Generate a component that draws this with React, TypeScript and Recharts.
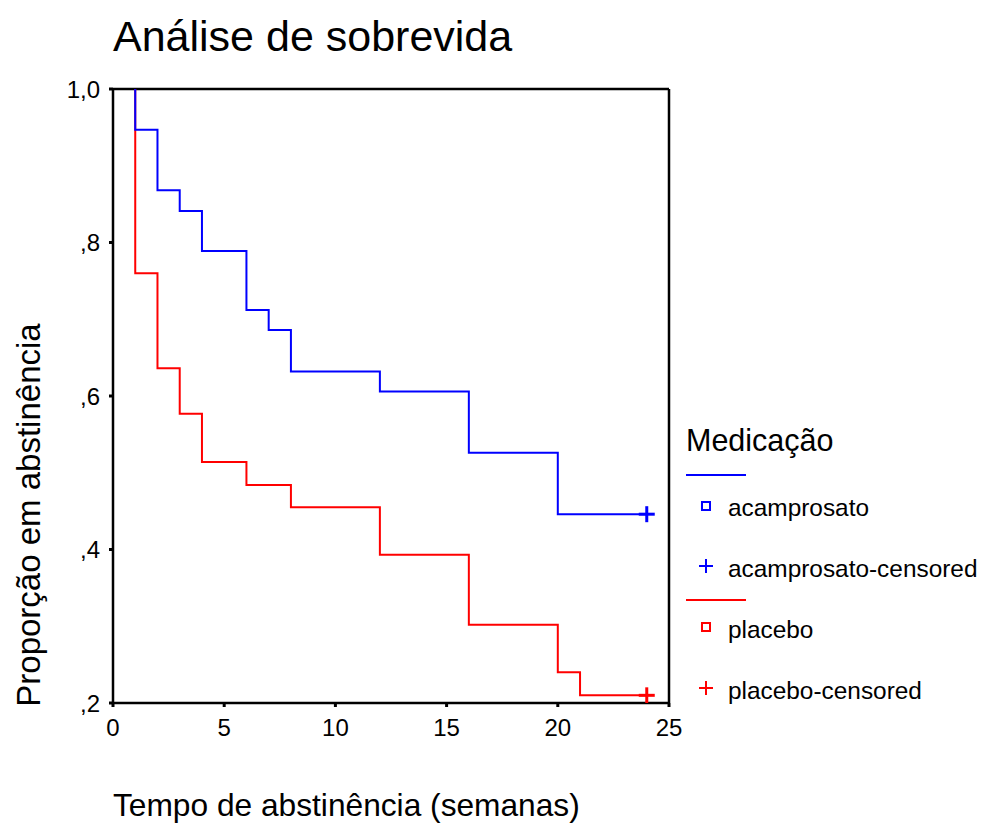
import React from "react";
import { ComposedChart, Line, Scatter, XAxis, YAxis, ReferenceLine } from "recharts";

const acamprosatoTimes = [1, 1, 2, 3, 4, 6, 7, 8, 12, 16, 20, 24];
const acamprosatoValues = [1.0, 0.947, 0.868, 0.841, 0.789, 0.712, 0.686, 0.632, 0.606, 0.526, 0.446, 0.446];
const placeboTimes = [1, 1, 2, 3, 4, 6, 8, 12, 16, 20, 21, 24];
const placeboValues = [1.0, 0.76, 0.636, 0.577, 0.514, 0.484, 0.455, 0.393, 0.302, 0.24, 0.21, 0.21];
const acamprosatoCensored = [{ x: 24, y: 0.446 }];
const placeboCensored = [{ x: 24, y: 0.21 }];
const xTicks = [0, 5, 10, 15, 20, 25];
const yTicks = [0.2, 0.4, 0.6, 0.8, 1.0];
const yTickLabels = [",2", ",4", ",6", ",8", "1,0"];
const legendLabels = ["acamprosato", "acamprosato-censored", "placebo", "placebo-censored"];

const BLUE = "#0000ff";
const RED = "#ff0000";
const FONT = "'Liberation Sans', Arial, sans-serif";

const blueData = acamprosatoTimes.map((t, i) => ({ x: t, y: acamprosatoValues[i] }));
const redData = placeboTimes.map((t, i) => ({ x: t, y: placeboValues[i] }));

const PlusShape = (color: string) => (props: any) => {
  const { cx, cy } = props;
  return (
    <g>
      <line x1={cx - 8} y1={cy} x2={cx + 8} y2={cy} stroke={color} strokeWidth={3} />
      <line x1={cx} y1={cy - 8} x2={cx} y2={cy + 8} stroke={color} strokeWidth={3} />
    </g>
  );
};

const yFmt = (v: number) => {
  const i = yTicks.findIndex((t) => Math.abs(t - v) < 1e-6);
  return i >= 0 ? yTickLabels[i] : String(v);
};

export default function App() {
  return (
    <div style={{ position: "absolute", left: 0, top: 0, width: 983, height: 827, background: "#fff", fontFamily: FONT }}>
      <ComposedChart
        width={983}
        height={827}
        margin={{ top: 89, right: 314, bottom: 84, left: 53 }}
      >
        <XAxis
          dataKey="x"
          type="number"
          domain={[0, 25]}
          ticks={xTicks}
          allowDataOverflow
          height={40}
          axisLine={{ stroke: "#000", strokeWidth: 2.5 }}
          tickLine={{ stroke: "#000", strokeWidth: 3 }}
          tickSize={4}
          tick={{ fill: "#000", fontSize: 24, fontFamily: FONT }}
          tickMargin={12}
        />
        <YAxis
          type="number"
          domain={[0.2, 1.0]}
          ticks={yTicks}
          allowDataOverflow
          width={60}
          tickFormatter={yFmt}
          axisLine={{ stroke: "#000", strokeWidth: 2.5 }}
          tickLine={{ stroke: "#000", strokeWidth: 3 }}
          tickSize={4}
          tick={{ fill: "#000", fontSize: 24, fontFamily: FONT }}
          tickMargin={9}
        />
        <ReferenceLine y={1} stroke="#000" strokeWidth={2.5} />
        <ReferenceLine x={25} stroke="#000" strokeWidth={2.5} />
        <Line data={redData} dataKey="y" type="stepAfter" stroke={RED} strokeWidth={2} dot={false} isAnimationActive={false} />
        <Line data={blueData} dataKey="y" type="stepAfter" stroke={BLUE} strokeWidth={2} dot={false} isAnimationActive={false} />
        <Scatter data={acamprosatoCensored} dataKey="y" shape={PlusShape(BLUE)} isAnimationActive={false} />
        <Scatter data={placeboCensored} dataKey="y" shape={PlusShape(RED)} isAnimationActive={false} />
      </ComposedChart>

      <div style={{ position: "absolute", left: 113, top: 15, fontSize: 43, lineHeight: 1, whiteSpace: "nowrap", color: "#000" }}>
        Análise de sobrevida
      </div>
      <div style={{ position: "absolute", left: 113, top: 790, fontSize: 31.7, lineHeight: 1, whiteSpace: "nowrap", color: "#000" }}>
        Tempo de abstinência (semanas)
      </div>
      <div
        style={{
          position: "absolute",
          left: 28,
          top: 515,
          fontSize: 33,
          lineHeight: 1,
          whiteSpace: "nowrap",
          color: "#000",
          transform: "translate(-50%, -50%) rotate(-90deg)",
        }}
      >
        Proporção em abstinência
      </div>

      <svg style={{ position: "absolute", left: 680, top: 415 }} width={303} height={300}>
        <text x={6} y={36} fontSize={30.5} fontFamily={FONT} fill="#000">Medicação</text>
        <line x1={6} y1={60} x2={66} y2={60} stroke={BLUE} strokeWidth={2} />
        <rect x={22} y={87} width={8} height={8} fill="none" stroke={BLUE} strokeWidth={2} />
        <text x={48} y={101} fontSize={24.4} fontFamily={FONT} fill="#000">{legendLabels[0]}</text>
        <line x1={19} y1={151} x2={33} y2={151} stroke={BLUE} strokeWidth={2} />
        <line x1={26} y1={144} x2={26} y2={158} stroke={BLUE} strokeWidth={2} />
        <text x={48} y={162} fontSize={24.4} fontFamily={FONT} fill="#000">{legendLabels[1]}</text>
        <line x1={6} y1={185} x2={66} y2={185} stroke={RED} strokeWidth={2} />
        <rect x={22} y={208} width={8} height={8} fill="none" stroke={RED} strokeWidth={2} />
        <text x={48} y={223} fontSize={24.4} fontFamily={FONT} fill="#000">{legendLabels[2]}</text>
        <line x1={19} y1={273} x2={33} y2={273} stroke={RED} strokeWidth={2} />
        <line x1={26} y1={266} x2={26} y2={280} stroke={RED} strokeWidth={2} />
        <text x={48} y={284} fontSize={24.4} fontFamily={FONT} fill="#000">{legendLabels[3]}</text>
      </svg>
    </div>
  );
}
